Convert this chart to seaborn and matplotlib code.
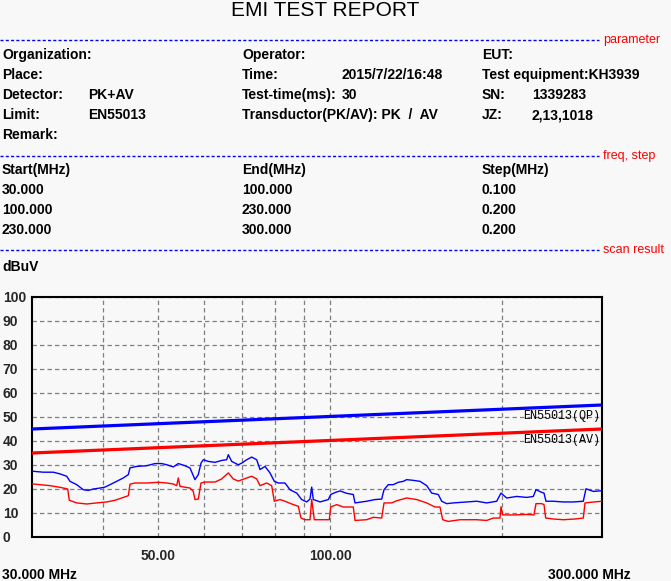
import matplotlib
matplotlib.use("Agg")
import matplotlib.pyplot as plt
import matplotlib.transforms as mtransforms
from matplotlib.lines import Line2D
from matplotlib.ticker import NullFormatter
import seaborn as sns
import pandas as pd

# ---------------- data ----------------
pk_freq = [30.08, 31.40, 32.69, 33.59, 34.52, 34.98, 35.94, 36.91, 37.66, 38.43,
           39.49, 40.29, 41.11, 42.24, 43.38, 44.27, 44.57, 45.79, 47.68, 49.31,
           50.66, 51.70, 53.09, 54.17, 55.66, 56.80, 57.95, 58.73, 59.38, 59.93,
           61.15, 62.83, 64.55, 65.87, 66.30, 67.21, 69.03, 70.02, 71.42, 72.87,
           74.36, 75.36, 76.90, 78.46, 79.84, 81.14, 83.36, 85.06, 87.40, 89.18,
           91.00, 92.22, 92.86, 93.46, 95.37, 96.02, 99.30, 100.27, 102.02, 104.11,
           106.96, 109.85, 110.61, 112.86, 115.96, 119.91, 123.20, 124.36, 126.53, 129.12,
           131.75, 134.44, 136.30, 139.98, 143.82, 147.77, 150.78, 154.85, 157.00, 160.20,
           164.53, 171.31, 180.84, 188.29, 196.06, 199.49, 204.14, 212.55, 221.32, 227.30,
           229.77, 235.14, 237.33, 239.26, 246.42, 256.58, 267.16, 278.17, 281.22, 289.64,
           300.0]
pk_level = [27.4, 27.0, 27.0, 26.3, 25.3, 23.2, 21.8, 19.7, 19.4, 20.0,
            20.4, 20.8, 21.8, 23.2, 24.6, 26.0, 28.8, 29.4, 29.7, 30.6,
            30.6, 30.1, 29.2, 30.6, 29.7, 28.75, 23.9, 26.0, 30.8, 32.2,
            31.5, 31.1, 31.9, 32.2, 34.3, 31.5, 30.1, 30.8, 32.2, 33.3,
            32.2, 28.1, 29.4, 26.7, 23.2, 22.5, 22.5, 19.7, 18.3, 15.6,
            14.6, 15.8, 20.8, 15.6, 14.9, 14.6, 15.6, 17.7, 18.5, 19.2,
            18.2, 17.7, 14.2, 14.5, 14.9, 15.6, 15.8, 19.7, 21.8, 21.8,
            22.8, 23.2, 23.9, 23.6, 23.2, 21.4, 18.3, 17.7, 14.9, 13.9,
            14.2, 14.5, 14.9, 14.2, 14.9, 18.3, 16.25, 16.9, 16.5, 16.9,
            19.7, 18.6, 18.3, 14.9, 14.9, 14.6, 14.6, 14.9, 20.1, 19.0,
            19.3]

av_freq = [30.08, 32.26, 33.59, 34.65, 34.88, 35.94, 37.42, 38.96, 40.57, 41.95,
           43.10, 44.27, 44.57, 45.48, 47.68, 49.97, 51.70, 53.09, 53.83, 54.17,
           54.55, 56.80, 57.55, 57.95, 58.73, 59.38, 60.35, 62.83, 64.55, 66.30,
           67.65, 69.03, 71.42, 72.87, 74.36, 75.36, 77.42, 79.00, 79.84, 81.70,
           83.36, 85.65, 87.97, 88.93, 90.38, 92.22, 92.86, 93.84, 97.99, 99.70,
           100.27, 102.73, 105.50, 109.85, 110.61, 115.96, 119.09, 123.20, 124.36, 128.28,
           130.91, 136.30, 141.92, 147.77, 152.80, 155.92, 157.64, 161.24, 169.04, 180.84,
           188.29, 193.38, 198.68, 199.49, 200.87, 209.65, 221.32, 227.94, 229.77, 235.14,
           237.33, 238.97, 246.42, 256.58, 269.0, 278.17, 280.09, 287.77, 300.0]
av_level = [22.1, 21.4, 20.7, 20.0, 15.3, 14.2, 13.75, 14.2, 14.6, 15.3,
            16.25, 17.2, 22.0, 22.5, 22.5, 22.8, 22.5, 22.1, 21.4, 24.6,
            21.1, 20.4, 19.0, 15.6, 15.8, 22.5, 22.9, 22.9, 24.2, 26.7,
            24.2, 23.3, 24.6, 25.3, 24.2, 21.4, 22.5, 21.4, 14.9, 15.6,
            14.9, 13.75, 12.8, 7.9, 7.2, 7.2, 15.6, 7.2, 7.2, 7.2,
            12.5, 13.5, 12.5, 12.5, 6.9, 7.2, 8.2, 7.9, 14.2, 14.2,
            15.1, 16.25, 15.6, 14.2, 12.5, 12.5, 7.2, 6.5, 7.2, 7.2,
            6.9, 7.9, 7.9, 12.6, 9.2, 9.2, 9.4, 9.2, 13.9, 13.9,
            13.5, 7.9, 7.5, 7.2, 7.5, 7.9, 14.2, 14.5, 14.9]

limit_freq = [30.0, 300.0]
limit_qp = [45.0, 55.0]
limit_av = [35.0, 45.0]
limit_names = ["EN55013(QP)", "EN55013(AV)"]

y_ticks = [0, 10, 20, 30, 40, 50, 60, 70, 80, 90, 100]
x_major = [50, 100]
x_major_labels = ["50.00", "100.00"]
x_minor = [40, 60, 70, 80, 90, 200]

param_rows = [
    ("Organization:", "", "Operator:", "", "EUT:", ""),
    ("Place:", "", "Time:", "2015/7/22/16:48", "Test equipment:KH3939", ""),
    ("Detector:", "PK+AV", "Test-time(ms):", "30", "SN:", "1339283"),
    ("Limit:", "EN55013", "Transductor(PK/AV): PK  /  AV", "", "JZ:", "2,13,1018"),
    ("Remark:", "", "", "", "", ""),
]
freq_rows = [
    ("Start(MHz)", "End(MHz)", "Step(MHz)"),
    ("30.000", "100.000", "0.100"),
    ("100.000", "230.000", "0.200"),
    ("230.000", "300.000", "0.200"),
]

# ---------------- style ----------------
sns.set_theme(style="white")
BG = "#f8f8f8"
SANS = ["Liberation Sans Narrow", "Liberation Sans", "DejaVu Sans"]
plt.rcParams["font.family"] = SANS

W, H = 671, 581
fig = plt.figure(figsize=(W / 100, H / 100), dpi=100, facecolor=BG)


def ftxt(x, y, s, **kw):
    kw.setdefault("fontsize", 10)
    kw.setdefault("color", "black")
    kw.setdefault("va", "center")
    kw.setdefault("ha", "left")
    fig.text(x / W, 1 - y / H, s, **kw)


def section(y, label):
    fig.add_artist(Line2D([0, 599 / W], [1 - y / H] * 2, color="#0000ff",
                          lw=1, linestyle=(0, (2.2, 1.6))))
    ftxt(603, y, label, color="#ff0000", fontsize=9, weight="normal")


ftxt(325, 10, "EMI TEST REPORT", ha="center", fontsize=15)

section(39.5, "parameter")
row_y = [55, 75, 95, 115, 135]
col_x = [2, 88, 242, 342, 482, 532]
for r, yy in zip(param_rows, row_y):
    for s, xx in zip(r, col_x):
        if s:
            ftxt(xx, yy, s, weight="bold")

section(156, "freq, step")
frow_y = [170, 190, 210, 230]
fcol_x = [2, 242, 482]
for r, yy in zip(freq_rows, frow_y):
    for s, xx in zip(r, fcol_x):
        ftxt(xx, yy, s, weight="bold")

section(250, "scan result")
ftxt(2, 267, "dBuV", weight="bold")

# ---------------- plot ----------------
ax = fig.add_axes([32 / W, 1 - 537 / H, 570 / W, 240 / H])
ax.set_facecolor(BG)
ax.set_xscale("log")

pk = pd.DataFrame({"freq": pk_freq, "level": pk_level})
av = pd.DataFrame({"freq": av_freq, "level": av_level})
lim = pd.DataFrame({"freq": limit_freq, "qp": limit_qp, "av": limit_av})

sns.lineplot(data=lim, x="freq", y="qp", ax=ax, color="#0000ff", lw=2.3,
             estimator=None, sort=False, zorder=3)
sns.lineplot(data=lim, x="freq", y="av", ax=ax, color="#ff0000", lw=2.3,
             estimator=None, sort=False, zorder=3)
sns.lineplot(data=pk, x="freq", y="level", ax=ax, color="#0000ff", lw=1.0,
             estimator=None, sort=False, zorder=4)
sns.lineplot(data=av, x="freq", y="level", ax=ax, color="#ff0000", lw=1.0,
             estimator=None, sort=False, zorder=4)

ax.set_xlim(30, 300)
ax.set_ylim(0, 100)
ax.set_xlabel("")
ax.set_ylabel("")

ax.set_xticks(x_major)
ax.set_xticklabels(x_major_labels)
ax.set_xticks(x_minor, minor=True)
ax.xaxis.set_minor_formatter(NullFormatter())
ax.set_yticks(y_ticks)
ax.set_yticklabels([str(v) for v in y_ticks])

grid_kw = dict(color="#7f7f7f", linestyle=(0, (3.5, 2.5)), lw=0.9)
ax.grid(True, which="both", axis="x", **grid_kw)
ax.grid(True, which="major", axis="y", **grid_kw)
ax.set_axisbelow(True)

ax.tick_params(axis="both", which="both", length=0)
ax.tick_params(axis="y", pad=21, labelsize=10)
ax.tick_params(axis="x", pad=9, labelsize=10)
for lbl in ax.get_yticklabels():
    lbl.set_horizontalalignment("left")
    lbl.set_fontweight("bold")
for lbl in ax.get_xticklabels():
    lbl.set_fontweight("bold")

for sp in ax.spines.values():
    sp.set_visible(True)
    sp.set_color("black")
    sp.set_linewidth(1.5)

blend = mtransforms.blended_transform_factory(ax.transAxes, ax.transData)
for name, yv in zip(limit_names, [limit_qp[1] - 4.5, limit_av[1] - 4.6]):
    ax.text(0.996, yv, name, transform=blend, ha="right", va="center",
            fontsize=8.5, family=["Liberation Mono", "DejaVu Sans Mono"],
            color="black", zorder=5)

ftxt(2, 575, "30.000 MHz", weight="bold")
ftxt(548, 575, "300.000 MHz", weight="bold")

fig.savefig("out.png", dpi=100, facecolor=BG)
